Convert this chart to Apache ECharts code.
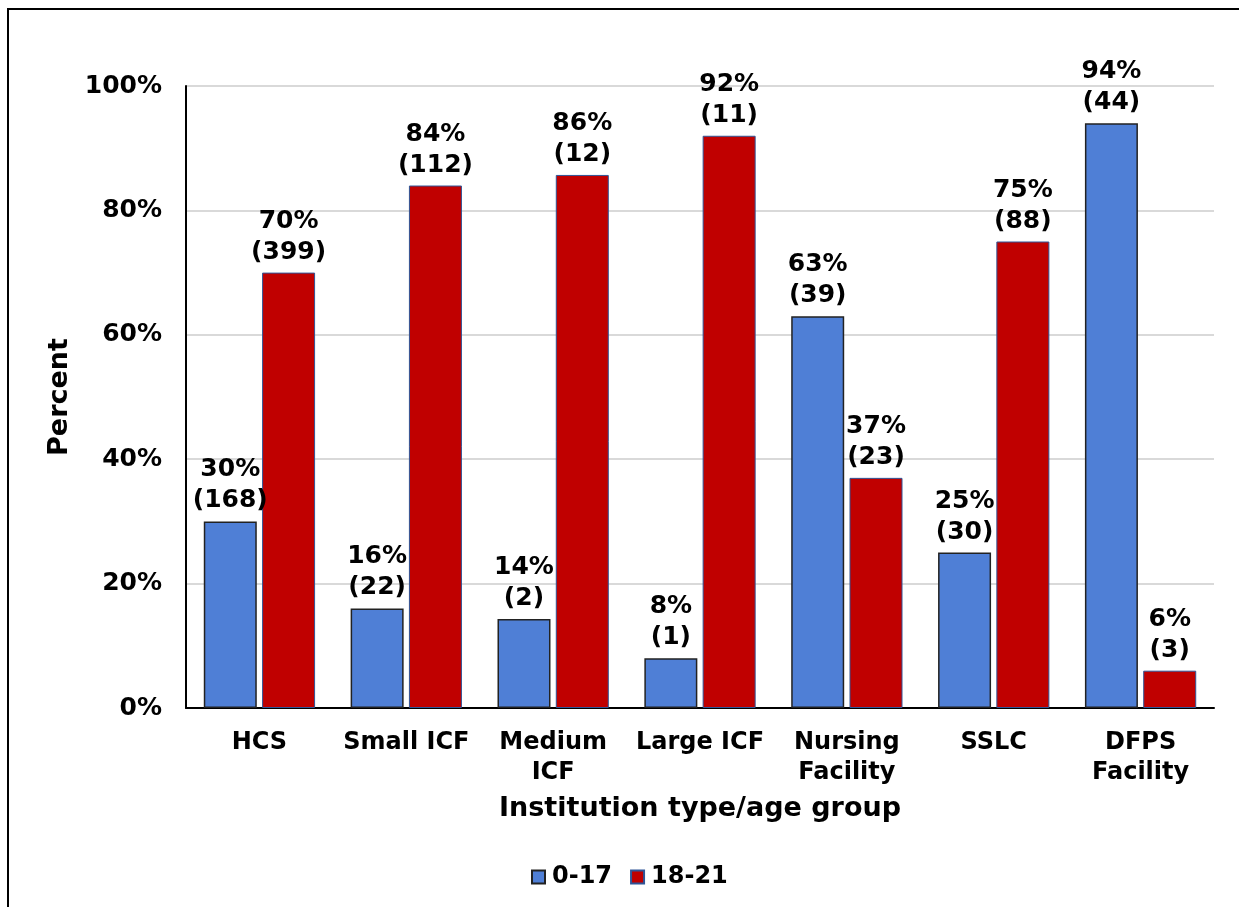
<!DOCTYPE html>
<html style="height: 100%">
<head>
    <meta charset="UTF-8">
    <title>Institution type/age group</title>
    <script src="https://cdn.jsdelivr.net/npm/echarts@6/dist/echarts.min.js"></script>
</head>
<body style="height: 100%; margin: 0; background: #fff">
    <div id="main" style="width: 1239px; height: 907px;"></div>
    <script>
        // 数据
        var categories = ['HCS', 'Small ICF', 'Medium\nICF', 'Large ICF', 'Nursing\nFacility', 'SSLC', 'DFPS\nFacility'];
        var youngPct = [30, 16, 14.3, 8, 63, 25, 94];
        var youngN = [168, 22, 2, 1, 39, 30, 44];
        var olderPct = [70, 84, 85.7, 92, 37, 75, 6];
        var olderN = [399, 112, 12, 11, 23, 88, 3];
        var yTicks = [0, 20, 40, 60, 80, 100];

        var font = 'Verdana, "DejaVu Sans", sans-serif';

        function labelFor(counts) {
            return {
                show: true,
                position: 'top',
                distance: 5,
                fontFamily: font,
                fontWeight: 'bold',
                fontSize: 25,
                lineHeight: 31,
                color: '#000',
                formatter: function (p) {
                    return Math.round(p.value) + '%\n(' + counts[p.dataIndex] + ')';
                }
            };
        }

        var myChart = echarts.init(document.getElementById('main'));

        var option = {
            animation: false,
            backgroundColor: '#fff',
            graphic: [{
                type: 'rect',
                shape: { x: 8, y: 9, width: 1260, height: 950 },
                style: { fill: 'none', stroke: '#000', lineWidth: 2 },
                silent: true
            }],
            legend: {
                left: 526,
                top: 860,
                itemWidth: 13,
                itemHeight: 13,
                itemGap: 18,
                icon: 'rect',
                textStyle: { fontFamily: font, fontWeight: 'bold', fontSize: 24, color: '#000', padding: [0, 0, 0, 2] },
                data: ['0-17', '18-21']
            },
            grid: {
                left: 186,
                right: 25,
                top: 86,
                bottom: 199,
                containLabel: false
            },
            xAxis: {
                type: 'category',
                data: categories,
                name: 'Institution type/age group',
                nameLocation: 'middle',
                nameGap: 87,
                nameTextStyle: { fontFamily: font, fontWeight: 'bold', fontSize: 27, color: '#000' },
                axisLine: { lineStyle: { color: '#000', width: 2 } },
                axisTick: { show: false },
                axisLabel: {
                    interval: 0,
                    margin: 20,
                    fontFamily: font,
                    fontWeight: 'bold',
                    fontSize: 24,
                    lineHeight: 30,
                    color: '#000'
                }
            },
            yAxis: {
                type: 'value',
                min: 0,
                max: 100,
                interval: 20,
                name: 'Percent',
                nameLocation: 'middle',
                nameGap: 112,
                nameTextStyle: { fontFamily: font, fontWeight: 'bold', fontSize: 27, color: '#000' },
                axisLine: { show: true, lineStyle: { color: '#000', width: 2 } },
                axisTick: { show: false },
                axisLabel: {
                    margin: 24,
                    fontFamily: font,
                    fontWeight: 'bold',
                    fontSize: 25,
                    color: '#000',
                    formatter: function (v) { return yTicks.indexOf(v) >= 0 ? v + '%' : ''; }
                },
                splitLine: { lineStyle: { color: '#d9d9d9', width: 2 } }
            },
            series: [
                {
                    name: '0-17',
                    type: 'bar',
                    data: youngPct,
                    barWidth: 53,
                    barGap: '10%',
                    itemStyle: { color: '#4f7fd6', borderColor: '#222', borderWidth: 1.5 },
                    label: labelFor(youngN)
                },
                {
                    name: '18-21',
                    type: 'bar',
                    data: olderPct,
                    barWidth: 53,
                    barGap: '10%',
                    itemStyle: { color: '#c00000', borderColor: '#2f5597', borderWidth: 1 },
                    label: labelFor(olderN)
                }
            ]
        };

        myChart.setOption(option);
    </script>
</body>
</html>
